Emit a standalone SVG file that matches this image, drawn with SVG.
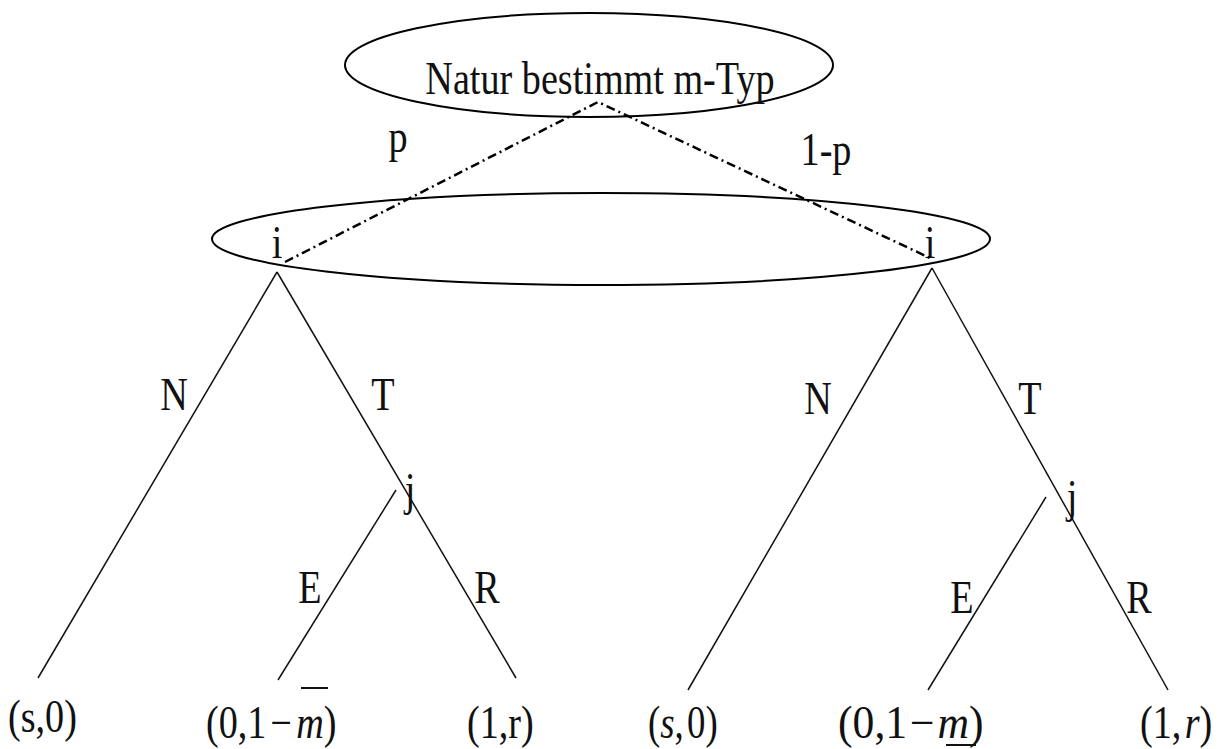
<svg xmlns="http://www.w3.org/2000/svg" width="1220" height="749" viewBox="0 0 1220 749">
<style>
text{font-family:"Liberation Serif","Times New Roman",serif;fill:#111;font-size:46px}
.c{text-anchor:middle}
.it{font-style:italic}
.e{fill:none;stroke:#000;stroke-width:2}
.l{stroke:#111;stroke-width:1.5;fill:none}
.d{stroke:#000;stroke-width:2.5;fill:none;stroke-dasharray:9 4 2 4}
.bar{stroke:#111;stroke-width:2}
</style>
<rect width="1220" height="749" fill="#fff"/>
<g id="nature">
<ellipse class="e" cx="589" cy="65" rx="244" ry="52"/>
<text class="c" transform="translate(600,94) scale(0.83,1)">Natur bestimmt m-Typ</text>
</g>
<g id="infoset">
<ellipse class="e" cx="601" cy="239" rx="389" ry="46"/>
</g>
<g id="i-left"><text class="c" transform="translate(277,258) scale(0.83,1)">i</text></g>
<g id="i-right"><text class="c" transform="translate(930,258) scale(0.83,1)">i</text></g>
<g id="j-left"><text class="c" transform="translate(410,505) scale(0.83,1)">j</text></g>
<g id="j-right"><text class="c" transform="translate(1072,512) scale(0.83,1)">j</text></g>
<g id="connectors">
<polyline class="d" points="285,262 598,102 930,258"/>
<line class="l" x1="277" y1="272" x2="38" y2="678"/>
<line class="l" x1="277" y1="272" x2="516" y2="678"/>
<line class="l" x1="396" y1="490" x2="278" y2="680"/>
<line class="l" x1="932" y1="268" x2="688" y2="690"/>
<line class="l" x1="932" y1="268" x2="1168" y2="690"/>
<line class="l" x1="1046" y1="497" x2="928" y2="690"/>
<text class="c" transform="translate(398,152) scale(0.83,1)">p</text>
<text class="c" transform="translate(826,165) scale(0.83,1)">1-p</text>
<text class="c" transform="translate(174,410) scale(0.83,1)">N</text>
<text class="c" transform="translate(383,410) scale(0.83,1)">T</text>
<text class="c" transform="translate(310,603) scale(0.83,1)">E</text>
<text class="c" transform="translate(487,603) scale(0.83,1)">R</text>
<text class="c" transform="translate(818,414) scale(0.83,1)">N</text>
<text class="c" transform="translate(1030,414) scale(0.83,1)">T</text>
<text class="c" transform="translate(962,613) scale(0.83,1)">E</text>
<text class="c" transform="translate(1139,613) scale(0.83,1)">R</text>
</g>
<g id="leaf-l1"><text transform="translate(8,732) scale(0.83,1)">(s,0)</text></g>
<g id="leaf-l2"><text transform="translate(206,738) scale(0.83,1)">(0,1<tspan dx="5">−</tspan><tspan class="it" dx="5">m</tspan>)</text><line class="bar" x1="301" y1="688" x2="328" y2="688"/></g>
<g id="leaf-l3"><text transform="translate(467,738) scale(0.83,1)">(1,r)</text></g>
<g id="leaf-r1"><text transform="translate(648,738) scale(0.8,1)">(<tspan class="it">s</tspan>,<tspan dx="4">0</tspan>)</text></g>
<g id="leaf-r2"><text transform="translate(838,738) scale(0.95,1)" font-size="48">(0,1<tspan dx="3">−</tspan><tspan class="it" dx="3">m</tspan>)</text><line class="bar" x1="946" y1="745" x2="976" y2="745"/></g>
<g id="leaf-r3"><text transform="translate(1140,738) scale(0.83,1)">(1,<tspan class="it" dx="4">r</tspan>)</text></g>
</svg>
